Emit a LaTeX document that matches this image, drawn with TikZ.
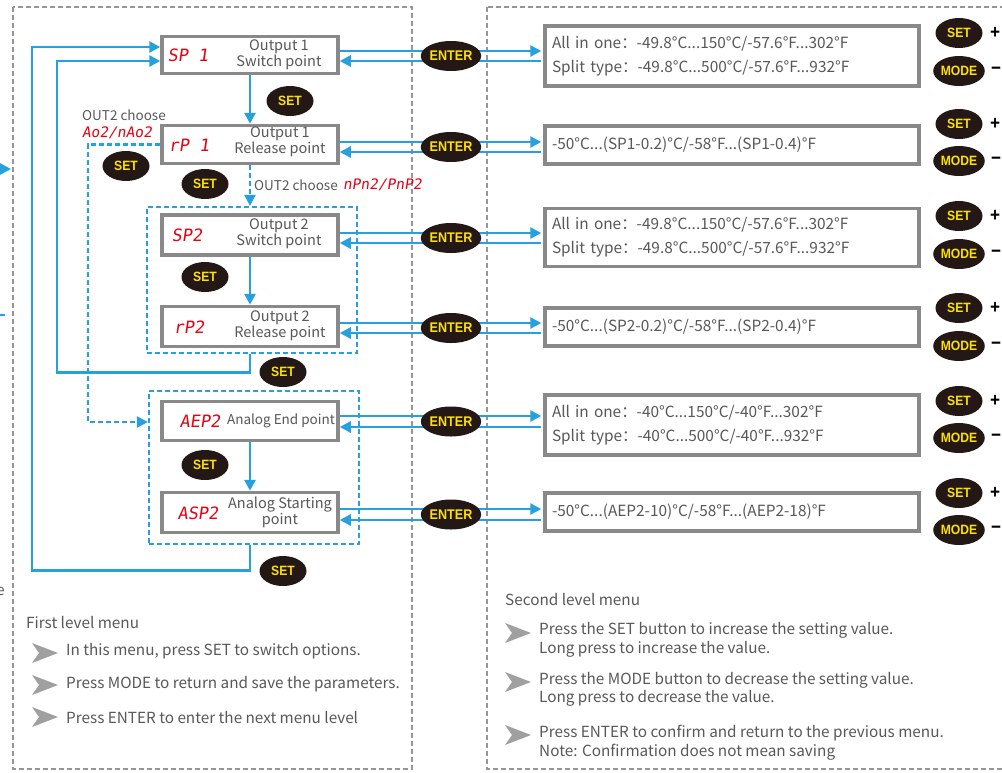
\documentclass[tikz,border=0pt]{standalone}
\usepackage{fontspec}
\setmainfont{Noto Sans CJK SC}
\newfontfamily\btnfont[FakeStretch=0.9]{Liberation Sans}
\newfontfamily\segfont[FakeSlant=0.15]{DejaVu Sans Mono}
\usetikzlibrary{shapes.geometric,arrows.meta,calc}

\definecolor{cblue}{RGB}{38,161,222}
\definecolor{boxgray}{RGB}{137,137,137}
\definecolor{dashgray}{RGB}{150,150,150}
\definecolor{txtgray}{RGB}{89,87,87}
\definecolor{segred}{RGB}{230,0,18}
\definecolor{btnbg}{RGB}{35,24,21}
\definecolor{btnfg}{RGB}{255,225,0}
\definecolor{bulgray}{RGB}{160,160,160}

\begin{document}
\begin{tikzpicture}[x=1pt,y=-1pt,
  mainbox/.style={draw=boxgray, line width=3.5pt, fill=white, minimum width=176pt, inner sep=0pt},
  rbox/.style={draw=boxgray, line width=3.5pt, fill=white, minimum width=374pt, text width=360pt,
    inner xsep=7pt, inner ysep=0pt, align=left, text=txtgray, font={\fontsize{15.4}{24}\selectfont}},
  grp/.style={draw=cblue, line width=2.2pt, dash pattern=on 5pt off 3pt, inner sep=0pt},
  outerbox/.style={draw=dashgray, line width=2.5pt, dash pattern=on 5pt off 3pt},
  conn/.style={draw=cblue, line width=2.8pt},
  arr/.style={conn, -{Triangle[length=11pt,width=11pt]}},
  rarr/.style={conn, {Triangle[length=11pt,width=11pt]}-},
  darr/.style={draw=cblue, line width=2.2pt, dash pattern=on 5pt off 3pt, -{Triangle[length=11pt,width=11pt]}},
  segcode/.style={text=segred, font={\segfont\fontsize{17}{17}\selectfont}, inner sep=0pt},
  segsmall/.style={text=segred, font={\segfont\fontsize{14.5}{14.5}\selectfont}, inner sep=0pt},
  lbl/.style={text=txtgray, font={\fontsize{14.5}{16}\selectfont}, align=center, inner sep=0pt},
  note/.style={text=txtgray, font={\fontsize{15.3}{18.5}\selectfont}, align=left, inner sep=0pt, anchor=west},
  small/.style={text=txtgray, font={\fontsize{13.5}{14}\selectfont}, inner sep=0pt, anchor=west},
  btn/.style={ellipse, fill=btnbg, text=btnfg, minimum width=47pt, minimum height=30pt, inner sep=0pt,
    font={\btnfont\bfseries\fontsize{13.5}{13.5}\selectfont}},
  enterbtn/.style={btn, minimum width=46pt, font={\btnfont\bfseries\fontsize{14}{14}\selectfont}},
  pm/.style={text=black, font={\btnfont\bfseries\fontsize{19}{19}\selectfont}, inner sep=0pt, anchor=west},
  bul/.pic={\fill[bulgray] (0,0) -- (-26,-10) -- (-19,0) -- (-26,10) -- cycle;}
]
\clip (0,0) rectangle (1002,772);

% outer dashed frames
\draw[outerbox] (13,7) rectangle (412,769);
\draw[outerbox] (487,7) rectangle (1020,769);

% fragments at left edge
\coordinate (fragA) at (-20,169);
\coordinate (fragB) at (11,169);
\draw[arr] (fragA) -- (fragB);
\coordinate (fragC) at (-10,315);
\coordinate (fragD) at (5,315);
\draw[conn] (fragC) -- (fragD);
\node[text=txtgray, font={\fontsize{15}{16}\selectfont}, anchor=east, inner sep=0pt] (frage) at (5,591) {e};

% group boxes
\node[grp, minimum width=210pt, minimum height=146pt] (grp1) at (252,280) {};
\node[grp, minimum width=210pt, minimum height=153pt] (grp2) at (254,467.5) {};

% main boxes
\node[mainbox, minimum height=37pt] (sp1) at (250,55) {};
\node[mainbox, minimum height=38pt] (rp1) at (250,144.5) {};
\node[mainbox, minimum height=40pt] (sp2) at (250,235) {};
\node[mainbox, minimum height=40pt] (rp2) at (250,326.5) {};
\node[mainbox, minimum height=39pt] (aep2) at (250,421) {};
\node[mainbox, minimum height=40pt] (asp2) at (250,512.5) {};

\node[segcode] (sp1c) at (188,55) {SP 1};
\node[lbl] (sp1l) at (279,55) {Output 1\\Switch point};
\node[segcode] (rp1c) at (189,145) {rP 1};
\node[lbl] (rp1l) at (280,142) {Output 1\\Release point};
\node[segcode] (sp2c) at (187,235) {SP2};
\node[lbl] (sp2l) at (279,234) {Output 2\\Switch point};
\node[segcode] (rp2c) at (189,327) {rP2};
\node[lbl] (rp2l) at (280,326) {Output 2\\Release point};
\node[segcode] (aep2c) at (200,421) {AEP2};
\node[lbl, font={\fontsize{13.5}{16}\selectfont}] (aep2l) at (281,421) {Analog End point};
\node[segcode] (asp2c) at (198,513) {ASP2};
\node[lbl] (asp2l) at (280,512.5) {Analog Starting\\point};

% vertical flow
\draw[arr] (sp1.south) -- (rp1.north);
\draw[arr] (sp2.south) -- (rp2.north);
\draw[arr] (aep2.south) -- (asp2.north);
\draw[darr] (rp1.south) -- (rp1.south |- grp1.north);

% dashed branch
\coordinate (dA) at (88,422);
\draw[darr] (rp1.west) -| (dA) -- (dA -| grp2.west);

% return loops
\coordinate (loopB) at (57,61);
\coordinate (loopA) at (32,47);
\draw[arr] (grp1.south -| sp1.south) -- ++(0,18) -| (loopB) -- (loopB -| sp1.west);
\draw[arr] (grp2.south -| sp1.south) -- ++(0,25) -| (loopA) -- (loopA -| sp1.west);

% OUT2 texts
\node[small] (o2a) at (82,115) {OUT2 choose};
\node[segsmall, anchor=west] (o2b) at (82,133) {Ao2/nAo2};
\node[small] (o2c) at (254,185) {OUT2 choose};
\node[segsmall, anchor=west] (o2d) at (343,185) {nPn2/PnP2};

% right boxes
\node[rbox, minimum height=60pt] (r1) at (732,56) {All in one：-49.8°C...150°C/-57.6°F...302°F\\Split type：-49.8°C...500°C/-57.6°F...932°F};
\node[rbox, minimum height=38pt] (r2) at (732,145) {-50°C...(SP1-0.2)°C/-58°F...(SP1-0.4)°F};
\node[rbox, minimum height=58pt] (r3) at (732,237.5) {All in one：-49.8°C...150°C/-57.6°F...302°F\\Split type：-49.8°C...500°C/-57.6°F...932°F};
\node[rbox, minimum height=38pt] (r4) at (732,327) {-50°C...(SP2-0.2)°C/-58°F...(SP2-0.4)°F};
\node[rbox, minimum height=60pt] (r5) at (732,425) {All in one：-40°C...150°C/-40°F...302°F\\Split type：-40°C...500°C/-40°F...932°F};
\node[rbox, minimum height=38pt] (r6) at (732,512) {-50°C...(AEP2-10)°C/-58°F...(AEP2-18)°F};

% row connectors
\foreach \m/\r/\a/\b in {sp1/r1/-4/6, rp1/r2/-2.5/7.5, sp2/r3/-2/8, rp2/r4/-3.5/6.5, aep2/r5/-5/6, asp2/r6/-3.5/7.5}{
  \coordinate (\m ta) at ($(\m.east)+(0,\a)$);
  \coordinate (\m tb) at ($(\m.east)+(0,\b)$);
  \draw[arr, shorten >=2pt] (\m ta) -- (\m ta -| \r.west);
  \draw[rarr] (\m tb) -- ([xshift=-2pt]\m tb -| \r.west);
}

% ENTER buttons
\node[enterbtn] (ent1) at (451,56) {ENTER};
\node[enterbtn] (ent2) at (451,147) {ENTER};
\node[enterbtn] (ent3) at (451,238) {ENTER};
\node[enterbtn] (ent4) at (451,328) {ENTER};
\node[enterbtn] (ent5) at (451,421.5) {ENTER};
\node[enterbtn] (ent6) at (451,514.5) {ENTER};

% SET buttons in first level
\node[btn] (s1) at (290,101) {SET};
\node[btn] (s2) at (126,166) {SET};
\node[btn] (s3) at (205,184) {SET};
\node[btn] (s4) at (205,277) {SET};
\node[btn] (s5) at (283,372) {SET};
\node[btn] (s6) at (205,465) {SET};
\node[btn] (s7) at (283,571) {SET};

% SET / MODE in second level
\foreach \i/\ys/\ym in {1/33/71, 2/124/161, 3/216/254, 4/308/346, 5/401/438, 6/493/530}{
  \node[btn] (rs\i) at (959,\ys) {SET};
  \node[btn] (rm\i) at (959,\ym) {MODE};
  \node[pm] (plus\i) at (990,\ys) {+};
  \node[pm] (minus\i) at (991,\ym) {−};
}

% first level notes
\node[note] (n1h) at (26,622) {First level menu};
\pic at (58,653) {bul};
\node[note] (n11) at (66,651) {In this menu, press SET to switch options.};
\pic at (58,685) {bul};
\node[note] (n12) at (66,684) {Press MODE to return and save the parameters.};
\pic at (58,717) {bul};
\node[note] (n13) at (66,717) {Press ENTER to enter the next menu level};

% second level notes
\node[note] (n2h) at (505,600) {Second level menu};
\pic at (531,633) {bul};
\node[note] (n21) at (539,640) {Press the SET button to increase the setting value.\\Long press to increase the value.};
\pic at (531,682) {bul};
\node[note] (n22) at (539,689.5) {Press the MODE button to decrease the setting value.\\Long press to decrease the value.};
\pic at (531,735) {bul};
\node[note] (n23) at (539,742.5) {Press ENTER to confirm and return to the previous menu.\\Note: Confirmation does not mean saving};
\end{tikzpicture}
\end{document}
